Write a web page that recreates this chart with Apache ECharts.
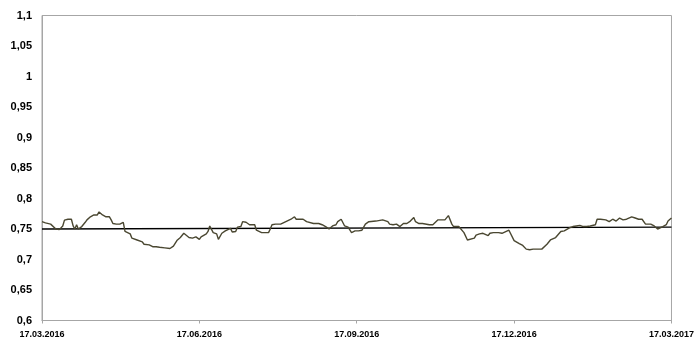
<!DOCTYPE html>
<html>
<head>
<meta charset="utf-8">
<script src="https://cdn.jsdelivr.net/npm/echarts@6/dist/echarts.min.js"></script>
<style>
  html, body { margin: 0; padding: 0; background: #fff; }
  #chart { width: 697px; height: 340px; }
</style>
</head>
<body>
<div id="chart"></div>
<script>
// Day offsets (from 17.03.2016) and the matching exchange-rate readings
const days = [
  0, 2, 5, 6, 8, 10, 12, 13, 15, 17, 18, 19, 20, 21, 22, 23, 24, 25, 26, 28,
  29, 30, 32, 33, 35, 36, 37, 39, 40, 41, 42, 43, 44, 45, 47, 48, 49, 51, 52, 53,
  55, 56, 58, 59, 60, 62, 64, 66, 68, 69, 71, 72,
  74, 75, 76, 78, 79, 80, 82, 83, 85, 87, 89, 90, 91, 92, 93, 95, 96, 97,
  98, 99, 101, 102, 103, 104, 106, 107, 109, 110, 111, 112, 113, 114, 115, 116, 118, 119, 120, 121,
  123, 124, 125, 127, 129, 130, 131, 132, 133, 135, 136, 138, 139, 141, 142, 144,
  146, 147, 148, 151, 152, 153, 154, 157, 160, 162, 164, 166, 168, 170, 171, 173, 174, 175, 177, 178,
  179, 181, 183, 185, 186, 187, 189, 190, 193, 194, 197, 200, 201, 203, 205, 207, 209, 211, 213, 215,
  216, 218,
  219, 220, 221, 224, 226, 227, 229, 231, 233, 235, 237, 238, 241, 242, 244, 246, 247, 250, 251, 253,
  255, 256, 258, 259, 261, 262, 264, 266, 267, 270, 271, 273, 274, 276, 278, 280, 282, 284, 285, 287,
  289, 290, 292, 294, 295, 297, 298, 300, 301, 302, 303, 305, 307, 309, 311, 313, 315, 317, 320, 321,
  323, 324, 326, 328, 330, 332, 334, 336, 338, 339, 341, 343, 345, 347, 349, 350, 352, 354, 356, 357,
  359, 361, 362, 364
];
const rate = [
  0.762, 0.760, 0.758, 0.755, 0.750, 0.749, 0.755, 0.7645, 0.766, 0.766, 0.755, 0.750, 0.757, 0.750, 0.753, 0.754, 0.754, 0.761, 0.765, 0.770,
  0.770, 0.773, 0.773, 0.778, 0.773, 0.771, 0.770, 0.770, 0.765, 0.759, 0.762, 0.758, 0.759, 0.758, 0.761, 0.746, 0.743, 0.742, 0.735, 0.736,
  0.732, 0.733, 0.729, 0.725, 0.728, 0.724, 0.721, 0.721, 0.720, 0.719, 0.719, 0.718,
  0.718, 0.721, 0.722, 0.731, 0.733, 0.736, 0.743, 0.744, 0.736, 0.735, 0.737, 0.735, 0.733, 0.737, 0.736, 0.742, 0.746, 0.755,
  0.757, 0.744, 0.742, 0.733, 0.736, 0.743, 0.747, 0.750, 0.751, 0.745, 0.748, 0.746, 0.753, 0.751, 0.754, 0.762, 0.761, 0.760, 0.757, 0.757,
  0.757, 0.748, 0.745, 0.744, 0.744, 0.747, 0.744, 0.750, 0.757, 0.758, 0.756, 0.758, 0.761, 0.762, 0.762, 0.766,
  0.770, 0.766, 0.763, 0.766, 0.768, 0.762, 0.761, 0.759, 0.759, 0.757, 0.754, 0.750, 0.755, 0.757, 0.762, 0.766, 0.763, 0.755, 0.753, 0.750,
  0.744, 0.747, 0.747, 0.748, 0.753, 0.758, 0.762, 0.761, 0.763, 0.765, 0.765, 0.762, 0.758, 0.757, 0.758, 0.754, 0.759, 0.759, 0.763, 0.769,
  0.762, 0.759,
  0.758, 0.759, 0.762, 0.757, 0.757, 0.759, 0.765, 0.765, 0.765, 0.772, 0.758, 0.754, 0.754, 0.753, 0.744, 0.732, 0.732, 0.735, 0.740, 0.742,
  0.743, 0.746, 0.739, 0.743, 0.744, 0.746, 0.744, 0.743, 0.743, 0.748, 0.750, 0.731, 0.728, 0.726, 0.723, 0.717, 0.716, 0.717, 0.716, 0.717,
  0.717, 0.720, 0.725, 0.732, 0.730, 0.736, 0.739, 0.746, 0.748, 0.747, 0.749, 0.752, 0.754, 0.755, 0.756, 0.754, 0.754, 0.755, 0.757, 0.766,
  0.766, 0.763, 0.765, 0.762, 0.766, 0.763, 0.768, 0.765, 0.766, 0.768, 0.770, 0.768, 0.766, 0.766, 0.758, 0.757, 0.758, 0.755, 0.750, 0.751,
  0.754, 0.757, 0.763, 0.768
];

// Linear trend across the whole year
const trendDays = [0, 364];
const trendRate = [0.750, 0.753];

const xTickLabels = ['17.03.2016', '17.06.2016', '17.09.2016', '17.12.2016', '17.03.2017'];
const yTickLabels = ['0,6', '0,65', '0,7', '0,75', '0,8', '0,85', '0,9', '0,95', '1', '1,05', '1,1'];

const axisGray = '#a6a6a6';
const labelFont = '"Liberation Sans", Arial, sans-serif';

const chart = echarts.init(document.getElementById('chart'), null, { renderer: 'canvas' });

chart.setOption({
  animation: false,
  backgroundColor: '#ffffff',
  grid: {
    left: 42, right: 22, top: 15.5, bottom: 19.5,
    show: true, borderColor: axisGray, borderWidth: 1, backgroundColor: 'transparent'
  },
  xAxis: {
    type: 'value',
    min: 0, max: 364, interval: 91,
    axisLine: { show: true, lineStyle: { color: axisGray, width: 1 } },
    axisTick: { show: true, length: 3, lineStyle: { color: axisGray } },
    splitLine: { show: false },
    axisLabel: {
      margin: 10,
      fontFamily: labelFont, fontWeight: 'bold', fontSize: 9, color: '#000',
      showMinLabel: true, showMaxLabel: true,
      formatter: v => xTickLabels[Math.round(v / 91)] || ''
    }
  },
  yAxis: {
    type: 'value',
    min: 0.6, max: 1.1, interval: 0.05,
    axisLine: { show: true, lineStyle: { color: axisGray, width: 1 } },
    axisTick: { show: false },
    splitLine: { show: false },
    axisLabel: {
      margin: 10,
      fontFamily: labelFont, fontWeight: 'bold', fontSize: 11, color: '#000',
      formatter: v => yTickLabels[Math.round((v - 0.6) / 0.05)] || ''
    }
  },
  series: [
    {
      type: 'line',
      data: trendDays.map((d, i) => [d, trendRate[i]]),
      showSymbol: false,
      lineStyle: { color: '#000000', width: 1.3 },
      z: 2
    },
    {
      type: 'line',
      data: days.map((d, i) => [d, rate[i]]),
      showSymbol: false,
      lineStyle: { color: '#4a4731', width: 1.4 },
      z: 3
    }
  ]
});
</script>
</body>
</html>
